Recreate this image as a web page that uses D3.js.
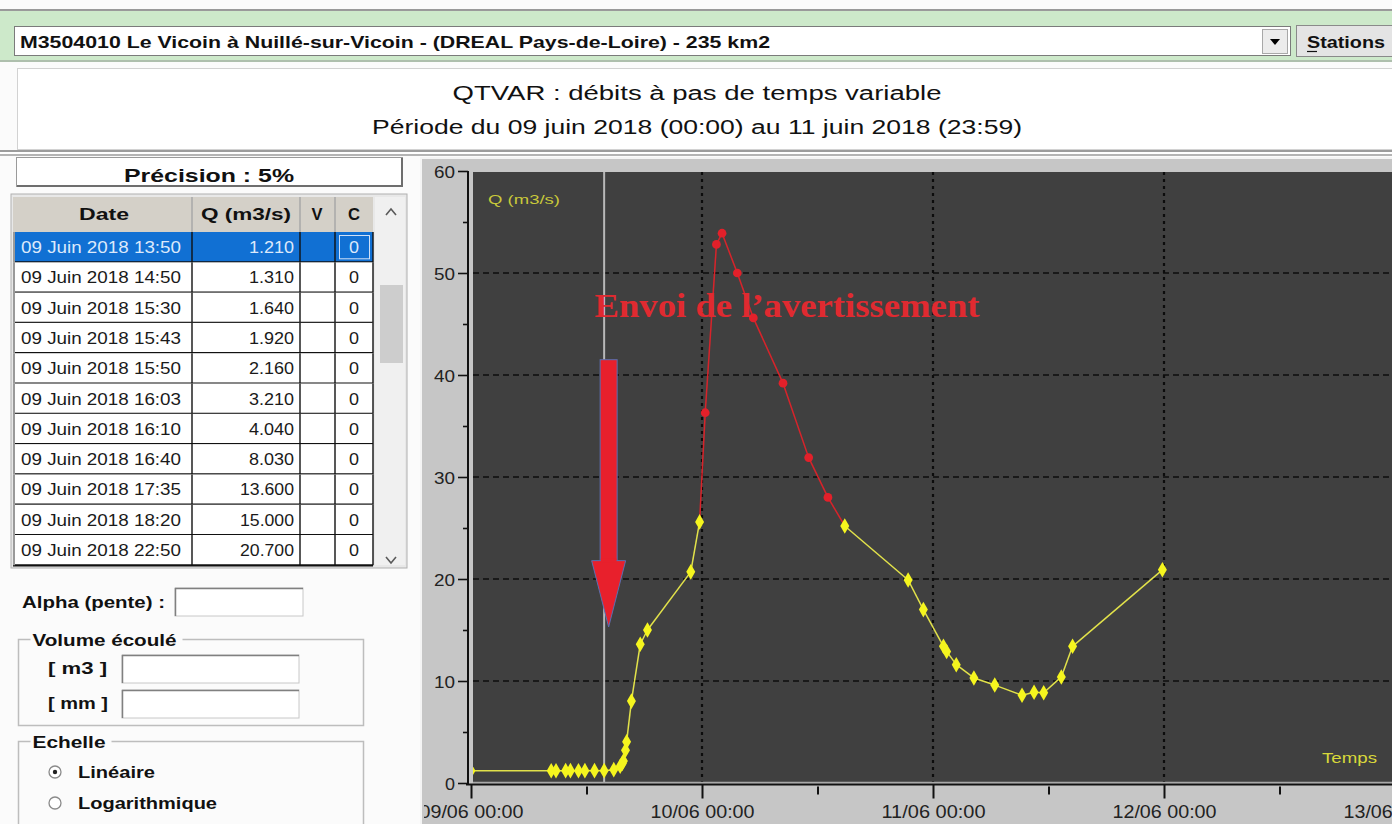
<!DOCTYPE html>
<html><head><meta charset="utf-8">
<script src="https://cdn.jsdelivr.net/npm/d3@7"></script>
<style>
html,body{margin:0;padding:0;background:#fbfbfb;overflow:hidden}
svg{display:block}
</style></head><body>
<svg id="c" width="1392" height="824"></svg>
<script>
// ---------------- DATA ----------------
const stationLabel = "M3504010 Le Vicoin à Nuillé-sur-Vicoin - (DREAL Pays-de-Loire) - 235 km2";
const titleLine1 = "QTVAR : débits à pas de temps variable";
const titleLine2 = "Période du 09 juin 2018 (00:00) au 11 juin 2018 (23:59)";
const precisionLabel = "Précision : 5%";
const tableHeaders = ["Date", "Q (m3/s)", "V", "C"];
const tableDates = ["09 Juin 2018 13:50","09 Juin 2018 14:50","09 Juin 2018 15:30","09 Juin 2018 15:43","09 Juin 2018 15:50","09 Juin 2018 16:03","09 Juin 2018 16:10","09 Juin 2018 16:40","09 Juin 2018 17:35","09 Juin 2018 18:20","09 Juin 2018 22:50"];
const tableQ = ["1.210","1.310","1.640","1.920","2.160","3.210","4.040","8.030","13.600","15.000","20.700"];
const tableV = ["","","","","","","","","","",""];
const tableC = ["0","0","0","0","0","0","0","0","0","0","0"];

const times = ["2018-06-09 00:00","2018-06-09 08:20","2018-06-09 08:50","2018-06-09 09:50","2018-06-09 10:20","2018-06-09 11:10","2018-06-09 11:50","2018-06-09 12:50",
  "2018-06-09 13:50","2018-06-09 14:50","2018-06-09 15:30","2018-06-09 15:43","2018-06-09 15:50","2018-06-09 16:03","2018-06-09 16:10","2018-06-09 16:40",
  "2018-06-09 17:35","2018-06-09 18:20","2018-06-09 22:50","2018-06-09 23:45",
  "2018-06-10 00:20","2018-06-10 01:30","2018-06-10 02:05","2018-06-10 03:40","2018-06-10 05:20","2018-06-10 08:25","2018-06-10 11:05","2018-06-10 13:05",
  "2018-06-10 14:50","2018-06-10 21:25","2018-06-10 23:00",
  "2018-06-11 01:05","2018-06-11 01:25","2018-06-11 02:25","2018-06-11 04:15","2018-06-11 06:25","2018-06-11 09:15","2018-06-11 10:30","2018-06-11 11:30",
  "2018-06-11 13:20","2018-06-11 14:30","2018-06-11 23:50"];
const flows = [1.20,1.20,1.20,1.21,1.21,1.20,1.21,1.21,
  1.21,1.31,1.64,1.92,2.16,3.21,4.04,8.03,
  13.6,15.0,20.7,25.6,
  36.3,52.8,53.9,50.0,45.6,39.2,31.9,28.0,
  25.2,19.9,17.0,
  13.4,12.9,11.6,10.3,9.6,8.6,8.9,8.85,
  10.4,13.4,20.9];
// "a" = point sent in the warning period (drawn red), "n" = normal
const status = ["n","n","n","n","n","n","n","n","n","n","n","n","n","n","n","n","n","n","n","n",
  "a","a","a","a","a","a","a","a",
  "n","n","n","n","n","n","n","n","n","n","n","n","n","n"];
const cursorTime = "2018-06-09 13:50";
const xDomain = ["2018-06-09 00:00","2018-06-13 00:00"];
const yTicks = [0,5,10,15,20,25,30,35,40,45,50,55,60];
const yGrid = [10,20,30,40,50];
const yAxisTitle = "Q (m3/s)";
const xAxisTitle = "Temps";
const annotation = "Envoi de l\u2019avertissement";
const arrowTop = 41.5, arrowBase = 21.8, arrowTip = 15.3; // in Q units

// ---------------- HELPERS ----------------
const SANS = "'Liberation Sans',Arial,sans-serif";
const SERIF = "'Liberation Serif','Times New Roman',serif";
const svg = d3.select("#c");
function txt(g, x, y, s, o = {}) {
  const t = g.append("text").attr("x", x).attr("y", y).text(s)
    .style("font-family", o.family || SANS)
    .attr("font-size", o.size || 15).attr("font-weight", o.bold ? "bold" : "normal")
    .attr("fill", o.fill || "#111").attr("text-anchor", o.anchor || "start");
  if (o.len) t.attr("textLength", o.len).attr("lengthAdjust", "spacingAndGlyphs");
  return t;
}
function rect(g, x, y, w, h, fill, stroke, sw) {
  return g.append("rect").attr("x", x).attr("y", y).attr("width", w).attr("height", h)
    .attr("fill", fill || "none").attr("stroke", stroke || "none").attr("stroke-width", sw || 1);
}
function line(g, x1, y1, x2, y2, stroke, sw) {
  return g.append("line").attr("x1", x1).attr("y1", y1).attr("x2", x2).attr("y2", y2)
    .attr("stroke", stroke).attr("stroke-width", sw || 1);
}

// ---------------- TOOLBAR ----------------
rect(svg, 0, 9, 1392, 2, "#9a9a9a");
rect(svg, 0, 11, 1392, 51, "#cde9ca");
rect(svg, 0, 60, 1392, 2, "#aebfad");
rect(svg, 14.5, 26.5, 1276, 29, "#fff", "#7b7b7b");
rect(svg, 1262.5, 29.5, 25, 24, "#ececec", "#a8a8a8");
svg.append("path").attr("d", "M1270,39 L1280,39 L1275,45 Z").attr("fill", "#000");
rect(svg, 1296.5, 25.5, 96, 31, "#e4e4e4", "#8a8a8a");
txt(svg, 20, 48, stationLabel, {size: 17, bold: true, len: 750});
txt(svg, 1307, 48, "Stations", {size: 17, bold: true, len: 78});
line(svg, 1307, 51.5, 1317, 51.5, "#111", 1.2);

// ---------------- TITLE ----------------
rect(svg, 17.5, 68.5, 1380, 81, "#fff", "#d2d2d2");
txt(svg, 697, 100, titleLine1, {size: 20, anchor: "middle", len: 489});
txt(svg, 697, 134, titleLine2, {size: 20, anchor: "middle", len: 650});
rect(svg, 0, 150, 1392, 2, "#9c9c9c");
rect(svg, 0, 152, 1392, 2, "#ffffff");
rect(svg, 0, 154, 1392, 2, "#b4b4b4");

// ---------------- LEFT PANEL ----------------
rect(svg, 16.5, 157.5, 386, 29, "#fff", "#9a9a9a");
line(svg, 17, 186, 402, 186, "#6e6e6e", 2);
line(svg, 402, 158, 402, 187, "#6e6e6e", 2);
txt(svg, 209, 182, precisionLabel, {size: 18, bold: true, anchor: "middle", len: 170});

const colX = [13, 192, 300, 335, 373];
const headTop = 197, headH = 35, rowH = 30.3;
rect(svg, 11, 194, 396, 374, "#e8e8e8", "#b0b0b0");
rect(svg, colX[0], headTop, colX[4] - colX[0], headH, "#d4d0c8");
for (let i = 1; i < 4; i++) line(svg, colX[i], headTop, colX[i], headTop + headH, "#a8a8a8", 1.5);
const headCx = [104, 246, 317, 354];
const headLen = [50, 90, 11, 12];
tableHeaders.forEach((h, i) => txt(svg, headCx[i], 220, h, {size: 16, bold: true, anchor: "middle", len: headLen[i]}));

const rows = svg.append("g");
tableDates.forEach((d, i) => {
  const y0 = headTop + headH + i * rowH;
  const sel = i === 0;
  rect(rows, colX[0], y0, colX[4] - colX[0], rowH, sel ? "#1170d3" : "#fff");
  line(rows, colX[0], y0 + rowH, colX[4], y0 + rowH, "#111", 2.2);
  for (let c = 1; c < 4; c++) line(rows, colX[c], y0, colX[c], y0 + rowH, "#111", 1.4);
  line(rows, colX[0] + 1, y0, colX[0] + 1, y0 + rowH, "#9a9a9a", 2);
  line(rows, colX[4], y0, colX[4], y0 + rowH, "#111", 1.4);
  const col = sel ? "#dce9fb" : "#1a1a1a";
  txt(rows, 21, y0 + 21, d, {size: 16, fill: col, len: 160});
  const qLen = tableQ[i].length * 9;
  txt(rows, 294, y0 + 21, tableQ[i], {size: 16, fill: col, anchor: "end", len: qLen});
  txt(rows, 317, y0 + 21, tableV[i], {size: 16, fill: col, anchor: "middle"});
  if (sel) rect(rows, 339.5, y0 + 3.5, 30, rowH - 7, "none", "#cfe0f7", 1);
  txt(rows, 354, y0 + 21, tableC[i], {size: 16, fill: col, anchor: "middle", len: 10});
});
// scrollbar
rect(svg, 375, 197, 30, 368, "#f0f0f0");
rect(svg, 380, 285, 23, 78, "#cdcdcd");
svg.append("path").attr("d", "M386,215 L391,209 L396,215").attr("fill", "none").attr("stroke", "#5a5a5a").attr("stroke-width", 1.6);
svg.append("path").attr("d", "M386,557 L391,563 L396,557").attr("fill", "none").attr("stroke", "#5a5a5a").attr("stroke-width", 1.6);

// form controls
function inputBox(x, y, w, h) {
  rect(svg, x, y, w, h, "#fff", "#c8c8c8");
  line(svg, x, y + 0.5, x + w, y + 0.5, "#808080", 1.5);
  line(svg, x + 0.5, y, x + 0.5, y + h, "#808080", 1.5);
}
txt(svg, 22, 608, "Alpha (pente) :", {size: 16, bold: true, len: 143});
inputBox(175, 588, 128, 28);

function groupBox(x, y, w, h, label, lw) {
  svg.append("path").attr("d", `M${x + 12},${y} L${x},${y} L${x},${y + h} L${x + w},${y + h} L${x + w},${y} L${x + lw + 20},${y}`)
    .attr("fill", "none").attr("stroke", "#bdbdbd").attr("stroke-width", 1.5);
  txt(svg, x + 14, y + 6, label, {size: 16, bold: true, len: lw});
}
groupBox(18.5, 639.5, 345, 86, "Volume écoulé", 144);
txt(svg, 48, 674, "[ m3 ]", {size: 16, bold: true, len: 59});
inputBox(122, 655, 177, 28);
txt(svg, 48, 709, "[ mm ]", {size: 16, bold: true, len: 60});
inputBox(122, 690, 177, 28);
groupBox(18.5, 741.5, 345, 100, "Echelle", 73);
svg.append("circle").attr("cx", 55).attr("cy", 772).attr("r", 6).attr("fill", "#fff").attr("stroke", "#8a8a8a").attr("stroke-width", 1.3);
svg.append("circle").attr("cx", 55).attr("cy", 772).attr("r", 2.2).attr("fill", "#222");
svg.append("circle").attr("cx", 55).attr("cy", 803).attr("r", 6).attr("fill", "#fff").attr("stroke", "#8a8a8a").attr("stroke-width", 1.3);
txt(svg, 78, 778, "Linéaire", {size: 16, bold: true, len: 77});
txt(svg, 78, 809, "Logarithmique", {size: 16, bold: true, len: 139});

// ---------------- CHART ----------------
const parse = d3.utcParse("%Y-%m-%d %H:%M");
const data = times.map((t, i) => ({t: parse(t), q: flows[i], s: status[i]}));
const x = d3.scaleUtc().domain(xDomain.map(parse)).range([471, 1395]);
const y = d3.scaleLinear().domain([0, 60]).range([783, 171]);

svg.append("clipPath").attr("id", "panelClip").append("rect").attr("x", 420).attr("y", 157).attr("width", 972).attr("height", 667);
const ch = svg.append("g").attr("clip-path", "url(#panelClip)");
rect(ch, 420, 157, 972, 667, "#c6c6c6");
line(ch, 421, 157, 421, 824, "#f4f4f4", 2);
line(ch, 420, 158, 1392, 158, "#f4f4f4", 2);
const plotTop = 172, plotBottom = 782, plotLeft = 473;
rect(ch, plotLeft, plotTop, 1392 - plotLeft, plotBottom - plotTop, "#404040");

svg.append("clipPath").attr("id", "plotClip").append("rect")
  .attr("x", plotLeft).attr("y", plotTop).attr("width", 1392 - plotLeft).attr("height", plotBottom - plotTop);
const pg = ch.append("g").attr("clip-path", "url(#plotClip)");

// grid
yGrid.forEach(v => line(pg, plotLeft, y(v), 1392, y(v), "#0c0c0c", 1.6).attr("stroke-dasharray", "6,4"));
const dayTicks = d3.utcDay.range(parse(xDomain[0]), d3.utcDay.offset(parse(xDomain[1]), 1));
dayTicks.slice(1, -1).forEach(d => line(pg, x(d), plotTop, x(d), plotBottom, "#0c0c0c", 2.2).attr("stroke-dasharray", "3,4"));

// cursor line
line(pg, x(parse(cursorTime)), plotTop, x(parse(cursorTime)), plotBottom, "#b8b8b8", 2);

// line segments
const segs = [];
for (let i = 0; i < data.length - 1; i++) {
  const red = data[i].s === "a" || data[i + 1].s === "a";
  segs.push({a: data[i], b: data[i + 1], red});
}
const lineGen = d3.line().x(d => x(d.t)).y(d => y(d.q));
pg.selectAll("path.seg").data(segs).join("path").attr("class", "seg")
  .attr("d", d => lineGen([d.a, d.b])).attr("fill", "none")
  .attr("stroke", d => d.red ? "#d8232a" : "#e2e24a").attr("stroke-width", 1.5);
const diamond = d3.symbol().type(d3.symbolDiamond).size(70);
const circ = d3.symbol().type(d3.symbolCircle).size(60);
pg.selectAll("path.pt").data(data).join("path").attr("class", "pt")
  .attr("transform", d => `translate(${x(d.t)},${y(d.q)})`)
  .attr("d", d => d.s === "a" ? circ() : diamond())
  .attr("fill", d => d.s === "a" ? "#e3202a" : "#f5f51e");

// axis titles in plot
txt(pg, 488, 204, yAxisTitle, {size: 13, fill: "#c9c93a", len: 72});
txt(pg, 1322, 763, xAxisTitle, {size: 14, fill: "#d8d83a", len: 55});

// arrow
const ax = x(parse(cursorTime)) + 4.5;
pg.append("rect").attr("x", ax - 8.5).attr("y", y(arrowTop)).attr("width", 17).attr("height", y(arrowBase) - y(arrowTop))
  .attr("fill", "#e8202c").attr("stroke", "#5a6fb0").attr("stroke-width", 1);
pg.append("path").attr("d", `M${ax - 17},${y(arrowBase)} L${ax + 17},${y(arrowBase)} L${ax},${y(arrowTip)} Z`)
  .attr("fill", "#e8202c").attr("stroke", "#5a6fb0").attr("stroke-width", 1);
pg.append("rect").attr("x", ax - 7.9).attr("y", y(arrowBase) - 2).attr("width", 15.8).attr("height", 4).attr("fill", "#e8202c");

// annotation
txt(pg, 787, 317, annotation, {size: 34, bold: true, fill: "#e02a30", anchor: "middle", len: 385, family: SERIF});

// plot bottom light line
line(ch, plotLeft, 782.5, 1392, 782.5, "#a9a9a9", 1.5);

// x axis (labels clipped at the panel's left edge, as in the original)
svg.append("clipPath").attr("id", "xLabClip").append("rect").attr("x", 424).attr("y", 780).attr("width", 968).attr("height", 44);
const xTicks = d3.utcHour.every(12).range(parse(xDomain[0]), d3.utcHour.offset(parse(xDomain[1]), 1));
const fmt = d3.utcFormat("%d/%m %H:%M");
const gx = ch.append("g").attr("clip-path", "url(#xLabClip)").append("g").attr("transform", "translate(0,784.5)")
  .call(d3.axisBottom(x).tickValues(xTicks).tickSize(14).tickFormat(d => d.getUTCHours() === 0 ? fmt(d) : ""));
gx.select(".domain").remove();
line(ch, 466, 784.5, 1392, 784.5, "#111", 2);
gx.selectAll(".tick line").attr("stroke", "#111").attr("stroke-width", 2)
  .attr("y1", d => d.getUTCHours() === 0 ? 0 : 2).attr("y2", d => d.getUTCHours() === 0 ? 14 : 10);
gx.selectAll(".tick text").attr("y", 33).attr("dy", 0).attr("font-size", 18).attr("fill", "#222")
  .style("font-family", SANS)
  .attr("textLength", d => d.getUTCHours() === 0 ? 104 : null).attr("lengthAdjust", "spacingAndGlyphs");

// y axis
const gy = ch.append("g").attr("transform", "translate(468,0)")
  .call(d3.axisLeft(y).tickValues(yTicks).tickSize(10).tickFormat(d => d % 10 === 0 ? d : ""));
gy.select(".domain").remove();
line(ch, 468, 171, 468, 785, "#111", 2);
gy.selectAll(".tick line").attr("stroke", "#111").attr("stroke-width", 1.6)
  .attr("x2", d => d % 10 === 0 ? -10 : -5);
gy.selectAll(".tick text").attr("x", -13).attr("dy", "0.36em").attr("font-size", 17).attr("fill", "#222")
  .style("font-family", SANS)
  .attr("textLength", d => d % 10 === 0 ? (d === 0 ? 10 : 21) : null).attr("lengthAdjust", "spacingAndGlyphs");
</script>
</body></html>
